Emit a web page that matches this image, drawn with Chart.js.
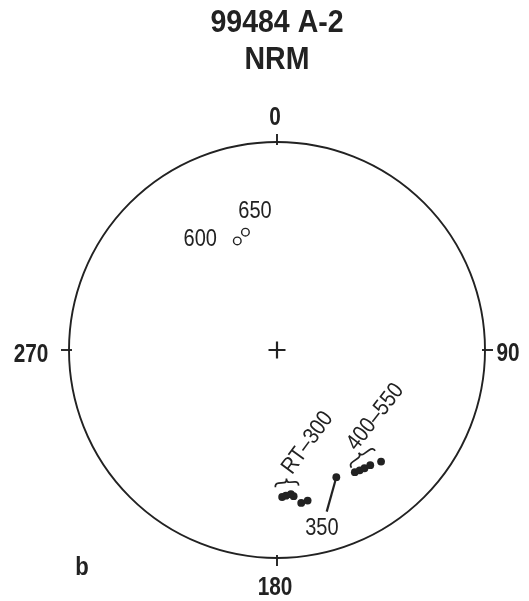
<!DOCTYPE html>
<html>
<head>
<meta charset="utf-8">
<script src="https://cdn.jsdelivr.net/npm/chart.js@4/dist/chart.umd.min.js"></script>
<style>
  html, body { margin: 0; padding: 0; background: #fff; }
  canvas { display: block; }
</style>
</head>
<body>
<canvas id="stereo" width="529" height="601"></canvas>
<script>
// ---- data (declination / inclination, degrees) ----
const titleLines = ["99484 A-2", "NRM"];
const axisLabels = ["0", "90", "180", "270"];

// upper hemisphere (open symbols)
const upperSteps = ["600", "650"];
const upperDec = [340, 345];
const upperInc = [-43.5, -41];

// lower hemisphere (filled symbols): RT-300 group, 350, 400-550 group
const lowerDec = [178, 176.5, 174.5, 173.5, 171, 168.5, 155, 147.5, 145.5, 143.5, 141, 137];
const lowerInc = [30, 30.5, 31, 30, 26.5, 27, 33, 31, 30.5, 30, 29.5, 27.5];

const groupLabels = ["RT–300", "350", "400–550"];

const FONT = "'Liberation Sans', Arial, sans-serif";
const INK = "#222";

// equal-area projection
function project(dec, inc) {
    const r = Math.SQRT2 * Math.sin((90 - Math.abs(inc)) / 2 * Math.PI / 180);
    const d = dec * Math.PI / 180;
    return { x: r * Math.sin(d), y: r * Math.cos(d) };
}

const upperPts = upperDec.map((d, i) => project(d, upperInc[i]));
const lowerPts = lowerDec.map((d, i) => project(d, lowerInc[i]));
const p350 = lowerPts[6];

// condensed text: squeeze horizontally, optional rotation
function label(ctx, text, x, y, font, squeeze, angle) {
    ctx.save();
    ctx.translate(x, y);
    if (angle) ctx.rotate(angle * Math.PI / 180);
    ctx.scale(squeeze, 1);
    ctx.font = font;
    ctx.fillText(text, 0, 0);
    ctx.restore();
}

function brace(ctx, x1, y1, x2, y2, h) {
    // curly brace from (x1,y1) to (x2,y2), tip offset h along the left normal
    const dx = x2 - x1, dy = y2 - y1;
    const len = Math.hypot(dx, dy);
    const ux = dx / len, uy = dy / len;
    const nx = uy, ny = -ux;
    const P = (t, o) => [x1 + ux * len * t + nx * o, y1 + uy * len * t + ny * o];
    ctx.beginPath();
    let a = P(0, 0); ctx.moveTo(a[0], a[1]);
    let c = P(0, h * 0.5), e = P(0.15, h * 0.5);
    ctx.quadraticCurveTo(c[0], c[1], e[0], e[1]);
    e = P(0.38, h * 0.5); ctx.lineTo(e[0], e[1]);
    c = P(0.5, h * 0.5); e = P(0.5, h);
    ctx.quadraticCurveTo(c[0], c[1], e[0], e[1]);
    c = P(0.5, h * 0.5); e = P(0.62, h * 0.5);
    ctx.quadraticCurveTo(c[0], c[1], e[0], e[1]);
    e = P(0.85, h * 0.5); ctx.lineTo(e[0], e[1]);
    c = P(1, h * 0.5); e = P(1, 0);
    ctx.quadraticCurveTo(c[0], c[1], e[0], e[1]);
    ctx.stroke();
}

const stereoPlugin = {
    id: "stereonet",
    beforeDatasetsDraw(chart) {
        const ctx = chart.ctx;
        const xs = chart.scales.x, ys = chart.scales.y;
        const cx = xs.getPixelForValue(0), cy = ys.getPixelForValue(0);
        const R = xs.getPixelForValue(1) - cx;
        ctx.save();
        ctx.strokeStyle = INK;
        ctx.lineWidth = 1.9;
        ctx.beginPath();
        ctx.arc(cx, cy, R, 0, Math.PI * 2);
        ctx.stroke();
        // ticks at N, E, S, W
        [0, 90, 180, 270].forEach(a => {
            const t = a * Math.PI / 180;
            const sx = Math.sin(t), sy = -Math.cos(t);
            ctx.beginPath();
            ctx.moveTo(cx + sx * (R - 3), cy + sy * (R - 3));
            ctx.lineTo(cx + sx * (R + 8), cy + sy * (R + 8));
            ctx.stroke();
        });
        ctx.restore();
    },
    afterDraw(chart) {
        const ctx = chart.ctx;
        const xs = chart.scales.x, ys = chart.scales.y;
        const px = v => xs.getPixelForValue(v), py = v => ys.getPixelForValue(v);
        const cx = px(0), cy = py(0), R = px(1) - cx;
        ctx.save();
        ctx.fillStyle = INK;
        ctx.strokeStyle = INK;
        ctx.textAlign = "center";
        ctx.textBaseline = "middle";

        // title
        const tFont = "bold 31px " + FONT;
        label(ctx, titleLines[0], cx, 23, tFont, 0.92);
        label(ctx, titleLines[1], cx, 60, tFont, 0.92);

        // axis labels
        const aFont = "bold 26px " + FONT;
        label(ctx, axisLabels[0], cx - 2, cy - R - 24, aFont, 0.8);
        label(ctx, axisLabels[1], cx + R + 23, cy + 4, aFont, 0.8);
        label(ctx, axisLabels[2], cx - 2, cy + R + 30, aFont, 0.8);
        label(ctx, axisLabels[3], cx - R - 38, cy + 5, aFont, 0.8);
        label(ctx, "b", cx - R + 13, cy + R + 10, aFont, 0.85);

        // step labels
        const sFont = "23px " + FONT;
        label(ctx, upperSteps[1], px(-0.106), py(0.665), sFont, 0.87);
        label(ctx, upperSteps[0], px(-0.369), py(0.529), sFont, 0.87);
        label(ctx, groupLabels[1], px(0.216), py(-0.861), sFont, 0.87);
        label(ctx, groupLabels[0], px(0.147), py(-0.447), sFont, 0.87, -54);
        label(ctx, groupLabels[2], px(0.473), py(-0.322), sFont, 0.87, -52);

        // braces
        ctx.lineWidth = 1.7;
        brace(ctx, px(-0.008), py(-0.66), px(0.104), py(-0.652), 8);
        brace(ctx, px(0.358), py(-0.566), px(0.472), py(-0.484), 8);
        ctx.restore();
    }
};

new Chart(document.getElementById("stereo"), {
    type: "scatter",
    data: {
        datasets: [
            {
                label: "upper",
                data: upperPts,
                pointStyle: "circle",
                pointRadius: 3.8,
                pointBackgroundColor: "#fff",
                pointBorderColor: INK,
                pointBorderWidth: 1.4
            },
            {
                label: "lower",
                data: lowerPts,
                pointStyle: "circle",
                pointRadius: 3.9,
                pointBackgroundColor: INK,
                pointBorderColor: INK,
                pointBorderWidth: 0
            },
            {
                label: "leader",
                data: [p350, { x: 0.239, y: -0.777 }],
                showLine: true,
                borderColor: INK,
                borderWidth: 2.2,
                pointRadius: 0
            },
            {
                label: "centre",
                data: [{ x: 0, y: 0 }],
                pointStyle: "cross",
                pointRadius: 8.5,
                pointBorderColor: INK,
                pointBorderWidth: 2.2
            }
        ]
    },
    options: {
        responsive: false,
        animation: false,
        devicePixelRatio: 1,
        layout: {
            padding: { left: 69, right: 44, top: 142, bottom: 43 }
        },
        plugins: {
            legend: { display: false },
            tooltip: { enabled: false },
            title: { display: false }
        },
        scales: {
            x: { type: "linear", min: -1, max: 1, display: false },
            y: { type: "linear", min: -1, max: 1, display: false }
        }
    },
    plugins: [stereoPlugin]
});
</script>
</body>
</html>
